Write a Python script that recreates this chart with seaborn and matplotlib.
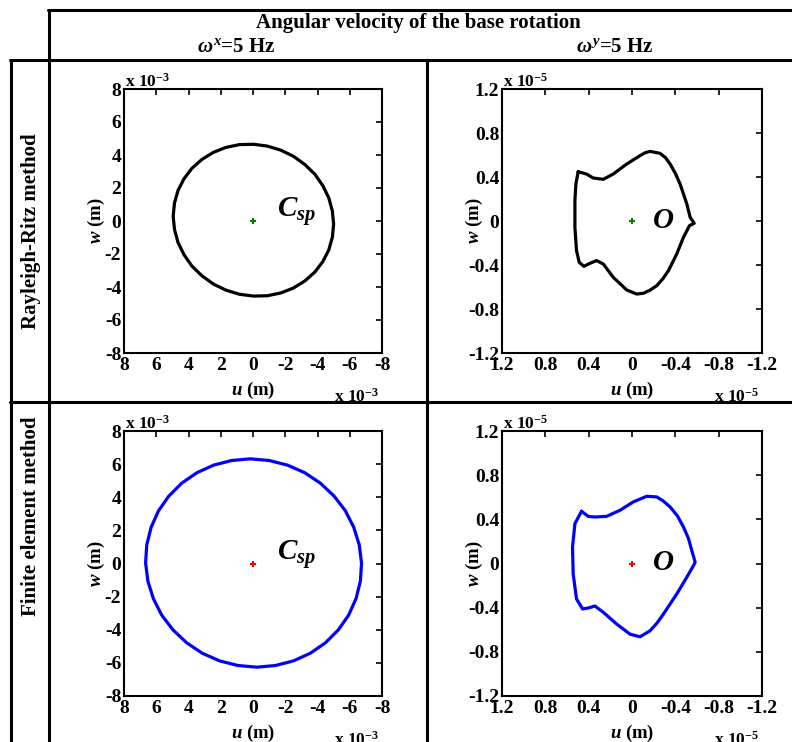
import matplotlib
matplotlib.use('Agg')
import matplotlib.pyplot as plt
from matplotlib.lines import Line2D
import seaborn as sns

sns.set_style('white')
plt.rcParams['font.family'] = ['Liberation Serif', 'DejaVu Serif']
plt.rcParams['font.weight'] = 'bold'
plt.rcParams['axes.labelweight'] = 'bold'
plt.rcParams['text.color'] = 'black'
plt.rcParams['axes.labelcolor'] = 'black'
plt.rcParams['mathtext.fontset'] = 'custom'
plt.rcParams['mathtext.rm'] = 'Liberation Serif:bold'
plt.rcParams['mathtext.it'] = 'Liberation Serif:italic:bold'
plt.rcParams['mathtext.bf'] = 'Liberation Serif:bold'
plt.rcParams['axes.unicode_minus'] = False

# orbit of the centre, omega^x = 5 Hz (units of 1e-3 m)
rr_x_u = [-5.0, -4.92, -4.70, -4.33, -3.84, -3.22, -2.51, -1.73, -0.89, -0.03, 0.84, 1.68,
          2.46, 3.17, 3.79, 4.28, 4.65, 4.87, 4.95, 4.87, 4.65, 4.28, 3.79, 3.17,
          2.46, 1.68, 0.84, -0.03, -0.89, -1.73, -2.51, -3.22, -3.84, -4.33, -4.70, -4.92, -5.0]
rr_x_w = [-0.19, 0.61, 1.40, 2.14, 2.83, 3.42, 3.92, 4.29, 4.54, 4.65, 4.63, 4.46,
          4.16, 3.73, 3.19, 2.56, 1.85, 1.09, 0.29, -0.51, -1.30, -2.04, -2.73, -3.32,
          -3.82, -4.19, -4.44, -4.55, -4.53, -4.36, -4.06, -3.63, -3.09, -2.46, -1.75, -0.99, -0.19]
fe_x_u = [-6.73, -6.59, -6.25, -5.73, -5.03, -4.18, -3.21, -2.14, -1.00, 0.17, 1.32, 2.44,
          3.48, 4.42, 5.22, 5.86, 6.32, 6.59, 6.66, 6.52, 6.18, 5.66, 4.96, 4.11,
          3.14, 2.07, 0.93, -0.24, -1.39, -2.51, -3.55, -4.49, -5.29, -5.93, -6.39, -6.66, -6.73]
fe_x_w = [0.03, 1.12, 2.18, 3.18, 4.07, 4.85, 5.48, 5.94, 6.22, 6.32, 6.22, 5.94,
          5.48, 4.85, 4.07, 3.18, 2.18, 1.12, 0.03, -1.06, -2.12, -3.12, -4.01, -4.79,
          -5.42, -5.88, -6.16, -6.26, -6.16, -5.88, -5.42, -4.79, -4.01, -3.12, -2.12, -1.06, 0.03]

# orbit of the centre, omega^y = 5 Hz (units of 1e-5 m)
rr_y_u = [0.497, 0.42, 0.358, 0.265, 0.173, 0.049, -0.074, -0.12, -0.167, -0.259, -0.31, -0.352,
          -0.402, -0.444, -0.506, -0.537, -0.574, -0.531, -0.475, -0.413, -0.336, -0.285, -0.228,
          -0.165, -0.105, -0.043, 0.049, 0.173, 0.265, 0.327, 0.389, 0.444, 0.487, 0.512, 0.527,
          0.527, 0.518, 0.497]
rr_y_w = [0.448, 0.427, 0.391, 0.379, 0.427, 0.518, 0.594, 0.62, 0.633, 0.615, 0.575, 0.518,
          0.43, 0.336, 0.155, 0.033, -0.021, -0.042, -0.148, -0.3, -0.452, -0.525, -0.588,
          -0.63, -0.657, -0.664, -0.627, -0.512, -0.391, -0.36, -0.385, -0.412, -0.376, -0.27, -0.058,
          0.185, 0.336, 0.448]
fe_y_u = [0.466, 0.404, 0.342, 0.234, 0.111, -0.012, -0.136, -0.228, -0.29, -0.352, -0.42, -0.475,
          -0.52, -0.552, -0.583, -0.568, -0.506, -0.413, -0.29, -0.23, -0.167, -0.074, 0.018,
          0.142, 0.265, 0.342, 0.404, 0.456, 0.512, 0.543, 0.549, 0.527, 0.466]
fe_y_w = [0.473, 0.427, 0.421, 0.427, 0.482, 0.558, 0.609, 0.603, 0.565, 0.512, 0.43, 0.33,
          0.23, 0.118, 0.012, -0.018, -0.124, -0.276, -0.458, -0.54, -0.609, -0.664, -0.64,
          -0.548, -0.442, -0.385, -0.403, -0.412, -0.321, -0.094, 0.148, 0.361, 0.473]

ticks_mm = [8, 6, 4, 2, 0, -2, -4, -6, -8]
labels_mm = ['8', '6', '4', '2', '0', '-2', '-4', '-6', '-8']
ticks_um = [1.2, 0.8, 0.4, 0, -0.4, -0.8, -1.2]
labels_um = ['1.2', '0.8', '0.4', '0', '-0.4', '-0.8', '-1.2']

W, H = 792, 742
fig = plt.figure(figsize=(W / 100, H / 100), dpi=100)


def px_axes(l, t, r, b):
    return fig.add_axes([l / W, 1 - b / H, (r - l) / W, (b - t) / H])


def panel(ax, u, w, color, ctr_color, ticks, labels, lim, exp, mark, mark_pos):
    sns.lineplot(x=u, y=w, sort=False, estimator=None, color=color, lw=2.3, ax=ax,
                 solid_joinstyle='round', solid_capstyle='round')
    ax.plot([0], [0], marker='+', color=ctr_color, ms=5, mew=1.5)
    ax.set_xlim(lim, -lim)
    ax.set_ylim(-lim, lim)
    ax.set_xticks(ticks)
    ax.set_xticklabels(labels)
    ax.set_yticks(ticks)
    ax.set_yticklabels(labels)
    ax.tick_params(direction='in', top=True, right=True, length=4, width=1.2,
                   labelsize=14, colors='black')
    ax.tick_params(axis='x', pad=3)
    ax.tick_params(axis='y', pad=2)
    for s in ax.spines.values():
        s.set_linewidth(1.5)
        s.set_color('black')
    ax.set_xlabel(r'$u$ (m)', fontsize=13.5)
    ax.set_ylabel(r'$w$ (m)', fontsize=13.5)
    ax.xaxis.set_label_coords(0.5, -0.1)
    ax.yaxis.set_label_coords(-0.066, 0.5)
    ax.text(0.004, 1.01, 'x 10$^{-%d}$' % exp, transform=ax.transAxes,
            ha='left', va='baseline', fontsize=12.5)
    ax.text(0.99, -0.185, 'x 10$^{-%d}$' % exp, transform=ax.transAxes,
            ha='right', va='baseline', fontsize=12.5)
    ax.text(mark_pos[0], mark_pos[1], mark, fontsize=21, ha='left', va='baseline')
    ax.grid(False)


ax1 = px_axes(124, 89, 382, 353)
ax2 = px_axes(502, 89, 762, 353)
ax3 = px_axes(124, 431, 382, 696)
ax4 = px_axes(502, 431, 762, 696)

panel(ax1, rr_x_u, rr_x_w, 'black', '#008000', ticks_mm, labels_mm, 8, 3, r'$C_{sp}$', (-1.5, 0.25))
panel(ax2, rr_y_u, rr_y_w, 'black', '#008000', ticks_um, labels_um, 1.2, 5, r'$O$', (-0.18, -0.06))
panel(ax3, fe_x_u, fe_x_w, '#0000ff', '#ff0000', ticks_mm, labels_mm, 8, 3, r'$C_{sp}$', (-1.5, 0.25))
panel(ax4, fe_y_u, fe_y_w, '#0000ff', '#ff0000', ticks_um, labels_um, 1.2, 5, r'$O$', (-0.18, -0.06))


# table frame
def hline(x0, x1, y):
    fig.add_artist(Line2D([x0 / W, x1 / W], [1 - y / H, 1 - y / H], color='black', lw=2.2))


def vline(x, y0, y1):
    fig.add_artist(Line2D([x / W, x / W], [1 - y0 / H, 1 - y1 / H], color='black', lw=2.2))


hline(48, 792, 10)
hline(10, 792, 60)
hline(10, 792, 402)
vline(49, 10, 742)
vline(11, 60, 742)
vline(427, 60, 742)

fig.text(418 / W, 1 - 23 / H, 'Angular velocity of the base rotation', ha='center', va='center', fontsize=15)
fig.text(236 / W, 1 - 47 / H, r'$\omega^{x}$=5 Hz', ha='center', va='center', fontsize=15)
fig.text(615 / W, 1 - 47 / H, r'$\omega^{y}$=5 Hz', ha='center', va='center', fontsize=15)
fig.text(31 / W, 1 - 231 / H, 'Rayleigh-Ritz method', rotation=90, ha='center', va='center', fontsize=15)
fig.text(31 / W, 1 - 516 / H, 'Finite element method', rotation=90, ha='center', va='center', fontsize=15)

fig.savefig('out.png', dpi=100, facecolor='white')
